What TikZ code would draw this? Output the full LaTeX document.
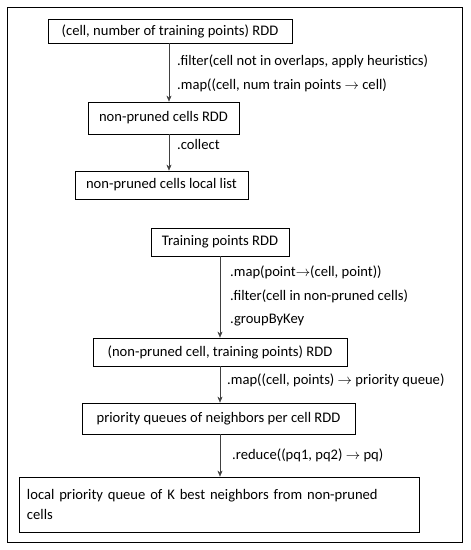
\documentclass[tikz,border=0pt]{standalone}
\usepackage{fontspec}
\setmainfont{Carlito}
\usetikzlibrary{arrows.meta}

\tikzset{
  rdd/.style={draw,thick,inner sep=0pt,font=\fontsize{14.6}{20}\selectfont},
  op/.style={anchor=north west,inner sep=0pt,align=left,font=\fontsize{14.6}{23.5}\selectfont},
  flow/.style={draw=black!75,-{Stealth[length=6pt,width=5pt]}}
}

\begin{document}
\begin{tikzpicture}[x=1pt,y=-1pt]
    \useasboundingbox (0,0) rectangle (471,550);
    \draw[thick] (7,7) rectangle (462,542);

    % first stage
    \node[rdd,minimum width=244pt,minimum height=24pt] (cellcount) at (170,31) {(cell, number of training points) RDD};
    \node[rdd,minimum width=151pt,minimum height=32pt] (pruned) at (163.5,118) {non-pruned cells RDD};
    \node[rdd,minimum width=173pt,minimum height=28pt] (locallist) at (161.5,185) {non-pruned cells local list};
    \coordinate (spineA) at (169,0);
    \draw[flow] (cellcount.south -| spineA) -- (pruned.north -| spineA);
    \draw[flow] (pruned.south -| spineA) -- (locallist.north -| spineA);
    \node[op] (filterop) at (177,55) {.filter(cell not in overlaps, apply heuristics)\\.map((cell, num train points $\rightarrow$ cell)};
    \node[op] (collectop) at (177,139) {.collect};

    % second stage
    \node[rdd,minimum width=138pt,minimum height=28pt] (trainrdd) at (220,242) {Training points RDD};
    \node[rdd,minimum width=254pt,minimum height=28pt] (cellpoints) at (220,352) {(non-pruned cell, training points) RDD};
    \node[rdd,minimum width=273pt,minimum height=31pt] (pqrdd) at (218.5,418.5) {priority queues of neighbors per cell RDD};
    \node[rdd,minimum width=400pt,minimum height=55pt,text width=384pt,align=left,inner xsep=8pt] (bestpq) at (219,504.5) {local priority queue of K best neighbors from non-pruned\\cells};
    \coordinate (spineB) at (220,0);
    \draw[flow] (trainrdd.south -| spineB) -- (cellpoints.north -| spineB);
    \draw[flow] (cellpoints.south -| spineB) -- (pqrdd.north -| spineB);
    \draw[flow] (pqrdd.south -| spineB) -- (bestpq.north -| spineB);
    \node[op] (mapop) at (230,266) {.map(point$\rightarrow$(cell, point))\\.filter(cell in non-pruned cells)\\.groupByKey};
    \node[op] (queueop) at (227,374) {.map((cell, points) $\rightarrow$ priority queue)};
    \node[op] (reduceop) at (232,449) {.reduce((pq1, pq2) $\rightarrow$ pq)};
\end{tikzpicture}
\end{document}
